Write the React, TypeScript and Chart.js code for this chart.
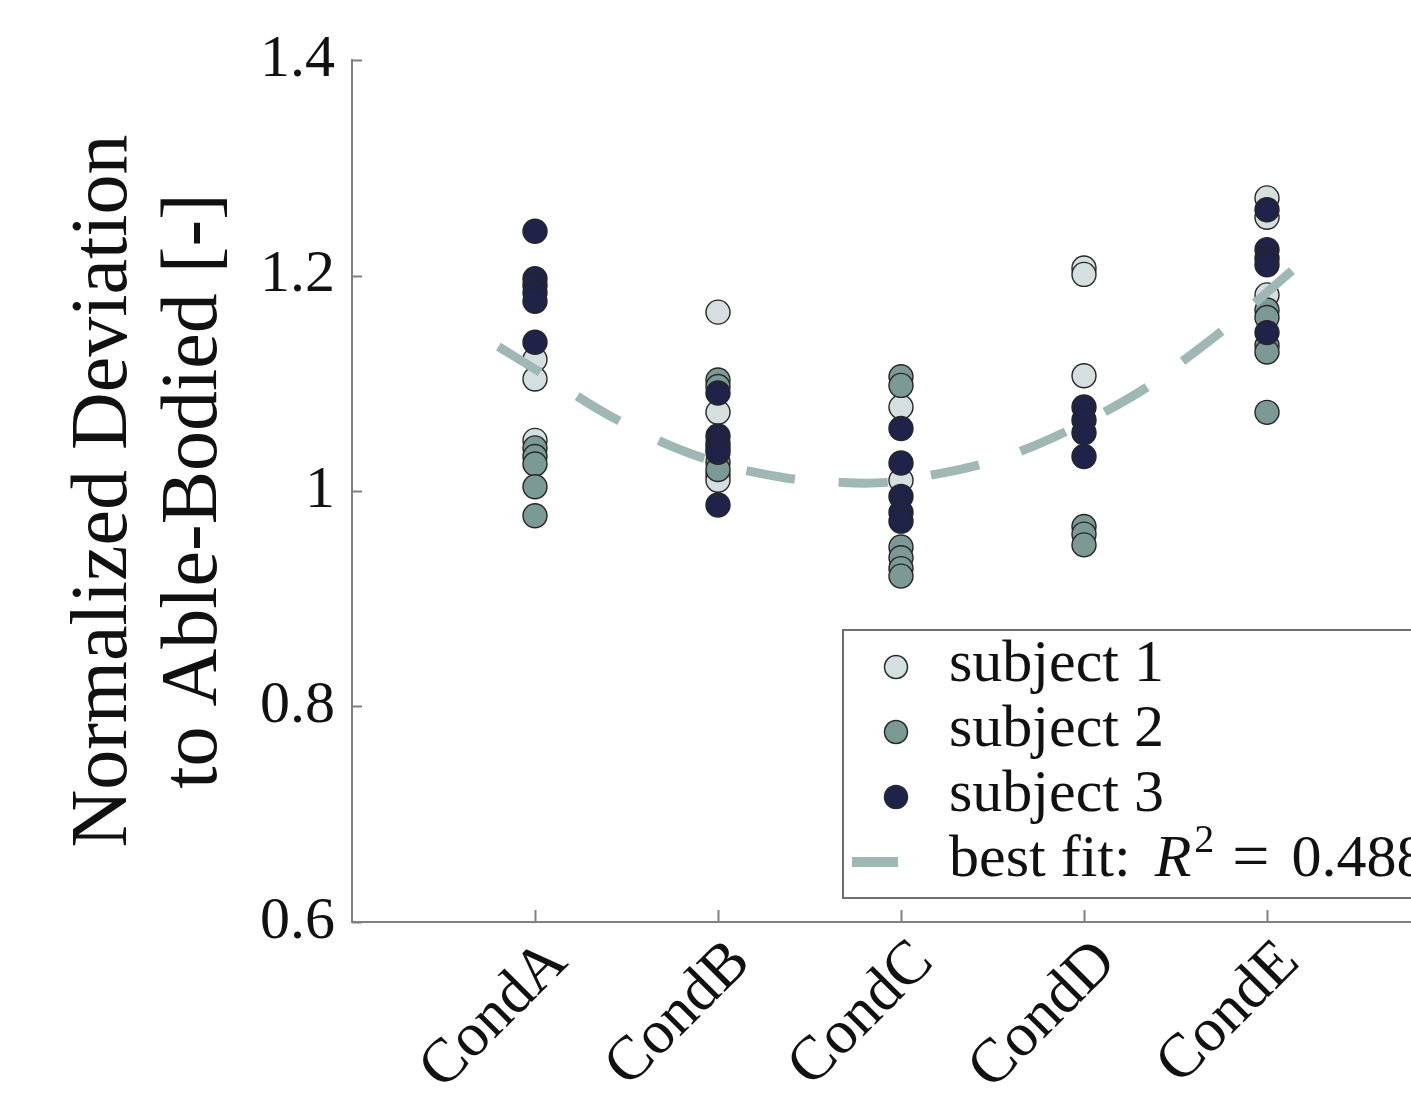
import React, { useEffect, useRef } from "react";
import { Chart, registerables } from "chart.js";

Chart.register(...registerables);

// ---- data ----
const categories = ["CondA", "CondB", "CondC", "CondD", "CondE"];
const yTickValues = [0.6, 0.8, 1.0, 1.2, 1.4];
const yTickLabels = ["0.6", "0.8", "1", "1.2", "1.4"];

// one inner array per condition
const subject1 = [
  [1.122, 1.104, 1.047],
  [1.166, 1.073, 1.015, 1.01],
  [1.078, 1.01],
  [1.207, 1.201, 1.107],
  [1.272, 1.254, 1.182],
];
const subject2 = [
  [1.04, 1.032, 1.025, 1.004, 0.977],
  [1.103, 1.097, 1.04, 1.027, 1.02],
  [1.106, 1.098, 0.948, 0.938, 0.928, 0.921],
  [0.967, 0.96, 0.95],
  [1.168, 1.161, 1.135, 1.129, 1.073],
];
const subject3 = [
  [1.241, 1.197, 1.191, 1.184, 1.176, 1.138],
  [1.091, 1.051, 1.044, 1.036, 0.987],
  [1.058, 1.026, 0.995, 0.98, 0.972],
  [1.078, 1.066, 1.054, 1.032],
  [1.261, 1.224, 1.216, 1.21, 1.147],
];
const fitX = [0.8, 1.03, 1.45, 1.91, 2.34, 2.67, 2.92, 3.17, 3.42, 3.67, 3.9, 4.13, 4.35, 4.55, 4.75, 4.95, 5.14];
const fitY = [1.134, 1.11, 1.066, 1.031, 1.013, 1.008, 1.008, 1.015, 1.024, 1.038, 1.055, 1.075, 1.097, 1.122, 1.148, 1.177, 1.205];

const seriesNames = ["subject 1", "subject 2", "subject 3"];
const fitText = ["best fit:", "R", "2", "=", "0.488"];
const yTitle = ["Normalized Deviation", "to Able-Bodied [-]"];

// ---- styles ----
const SERIF = "'Liberation Serif', 'Times New Roman', serif";
const COLORS = ["#d6dfdf", "#7b9995", "#1f2249"];
const FIT_COLOR = "#9fb7b5";
const AXIS_COLOR = "#808080";
const CANVAS_W = 1500;
const CANVAS_H = 1200;

const toPoints = (vals: number[][]) =>
  vals.flatMap((arr, i) => arr.map((v) => ({ x: i + 1, y: v })));

const decorPlugin = {
  id: "decor",
  afterDraw(chart: any) {
    const { ctx, scales } = chart;
    const xs = scales.x;
    const ys = scales.y;
    ctx.save();
    // inward ticks
    ctx.strokeStyle = AXIS_COLOR;
    ctx.lineWidth = 2;
    ctx.beginPath();
    yTickValues.forEach((v) => {
      const py = Math.round(ys.getPixelForValue(v)) + 0.5;
      ctx.moveTo(xs.left, py);
      ctx.lineTo(xs.left + 10, py);
    });
    categories.forEach((_, i) => {
      const px = Math.round(xs.getPixelForValue(i + 1)) + 0.5;
      ctx.moveTo(px, ys.bottom);
      ctx.lineTo(px, ys.bottom - 12);
    });
    ctx.stroke();

    // legend box
    const bx = 843, by = 630, bw = 640, bh = 268;
    ctx.fillStyle = "#ffffff";
    ctx.fillRect(bx, by, bw, bh);
    ctx.strokeStyle = "#6e6e6e";
    ctx.lineWidth = 2;
    ctx.strokeRect(bx, by, bw, bh);

    const rowY = [667, 732, 797, 862];
    const textX = 949;
    ctx.fillStyle = "#111";
    ctx.font = `60px ${SERIF}`;
    ctx.textBaseline = "alphabetic";
    ctx.textAlign = "left";
    seriesNames.forEach((name, i) => {
      ctx.beginPath();
      ctx.arc(896, rowY[i], 11.5, 0, Math.PI * 2);
      ctx.fillStyle = COLORS[i];
      ctx.fill();
      ctx.lineWidth = 1.5;
      ctx.strokeStyle = "#2a2a2a";
      ctx.stroke();
      ctx.fillStyle = "#111";
      ctx.fillText(name, textX, rowY[i] + 14);
    });
    // fit entry
    ctx.strokeStyle = FIT_COLOR;
    ctx.lineWidth = 10;
    ctx.beginPath();
    ctx.moveTo(852, rowY[3]);
    ctx.lineTo(898, rowY[3]);
    ctx.stroke();
    const base = rowY[3] + 14;
    ctx.fillStyle = "#111";
    ctx.font = `60px ${SERIF}`;
    ctx.fillText(fitText[0], textX, base);
    let x = textX + ctx.measureText(fitText[0]).width + 24;
    ctx.font = `italic 60px ${SERIF}`;
    ctx.fillText(fitText[1], x, base);
    x += ctx.measureText(fitText[1]).width + 3;
    ctx.font = `40px ${SERIF}`;
    ctx.fillText(fitText[2], x, base - 24);
    x += ctx.measureText(fitText[2]).width + 18;
    ctx.font = `66px ${SERIF}`;
    ctx.fillText(fitText[3], x, base + 2);
    x += ctx.measureText(fitText[3]).width + 22;
    ctx.font = `60px ${SERIF}`;
    ctx.fillText(fitText[4], x, base);
    ctx.restore();
  },
};

export default function App() {
  const ref = useRef<HTMLCanvasElement | null>(null);
  useEffect(() => {
    if (!ref.current) return;
    const scatterDs = (vals: number[][], i: number) => ({
      type: "scatter" as const,
      label: seriesNames[i],
      data: toPoints(vals),
      backgroundColor: COLORS[i],
      borderColor: "#262626",
      borderWidth: 1.4,
      pointRadius: 12,
      pointHoverRadius: 12,
    });
    const chart = new Chart(ref.current, {
      type: "scatter",
      data: {
        datasets: [
          {
            type: "line" as const,
            label: "best fit",
            data: fitX.map((x, i) => ({ x, y: fitY[i] })),
            borderColor: FIT_COLOR,
            borderWidth: 9,
            borderDash: [49, 44],
            borderCapStyle: "butt",
            pointRadius: 0,
            tension: 0.4,
            fill: false,
          } as any,
          scatterDs(subject3, 2),
          scatterDs(subject2, 1),
          scatterDs(subject1, 0),
        ],
      },
      options: {
        responsive: false,
        animation: false,
        events: [],
        layout: { padding: { top: 60, right: 50, left: 0, bottom: 0 } },
        plugins: {
          legend: { display: false },
          tooltip: { enabled: false },
        },
        scales: {
          x: {
            type: "linear",
            min: 0,
            max: 6,
            grid: { display: false, drawTicks: false },
            border: { display: true, color: AXIS_COLOR, width: 2 },
            afterBuildTicks: (scale: any) => {
              scale.ticks = categories.map((_, i) => ({ value: i + 1 }));
            },
            afterFit: (scale: any) => {
              scale.height = CANVAS_H - 922;
            },
            ticks: {
              autoSkip: false,
              maxRotation: 45,
              minRotation: 45,
              padding: 24,
              labelOffset: 23,
              color: "#111",
              font: { family: SERIF, size: 62, lineHeight: 0.3 },
              callback: (v: any) => categories[Math.round(v) - 1] ?? "",
            },
          },
          y: {
            type: "linear",
            min: 0.6,
            max: 1.4,
            grid: { display: false, drawTicks: false },
            border: { display: true, color: AXIS_COLOR, width: 2 },
            afterBuildTicks: (scale: any) => {
              scale.ticks = yTickValues.map((v) => ({ value: v }));
            },
            afterFit: (scale: any) => {
              scale.width = 352;
            },
            ticks: {
              padding: 17,
              color: "#111",
              font: { family: SERIF, size: 60 },
              callback: (v: any) => {
                const i = yTickValues.findIndex((t) => Math.abs(t - v) < 1e-6);
                return i >= 0 ? yTickLabels[i] : "";
              },
            },
            title: {
              display: true,
              text: yTitle,
              color: "#111",
              font: { family: SERIF, size: 80, lineHeight: 1.125 },
              padding: { top: 60, bottom: 0 },
            },
          },
        },
      },
      plugins: [decorPlugin],
    });
    return () => chart.destroy();
  }, []);

  return (
    <div
      style={{
        position: "fixed",
        left: 0,
        top: 0,
        width: 1411,
        height: 1096,
        overflow: "hidden",
        background: "#fff",
      }}
    >
      <canvas
        ref={ref}
        width={CANVAS_W}
        height={CANVAS_H}
        style={{ width: CANVAS_W, height: CANVAS_H, display: "block" }}
      />
    </div>
  );
}
